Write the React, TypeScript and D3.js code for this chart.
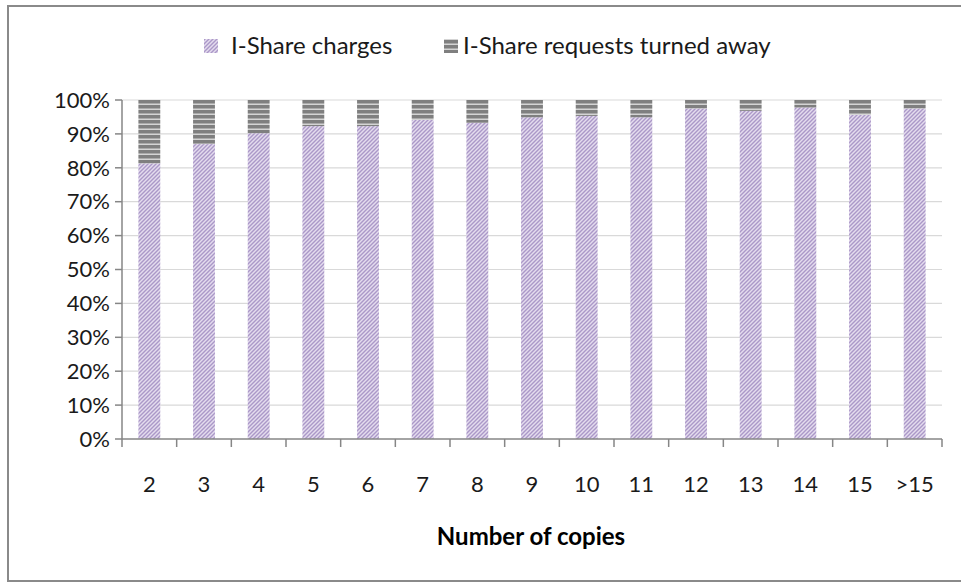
import React from 'react';
import * as d3 from 'd3';

const categories = ['2', '3', '4', '5', '6', '7', '8', '9', '10', '11', '12', '13', '14', '15', '>15'];
const charges = [81.3, 87.0, 90.2, 92.3, 92.3, 94.1, 93.3, 94.9, 95.3, 94.9, 97.5, 96.8, 97.8, 95.6, 97.5];
const turnedAway = [18.7, 13.0, 9.8, 7.7, 7.7, 5.9, 6.7, 5.1, 4.7, 5.1, 2.5, 3.2, 2.2, 4.4, 2.5];
const yTicks = [0, 10, 20, 30, 40, 50, 60, 70, 80, 90, 100];
const seriesNames = ['I-Share charges', 'I-Share requests turned away'];
const xTitle = 'Number of copies';

const W = 961;
const H = 582;
const FONT = 'Lato, "Open Sans", sans-serif';

export default function App() {
  const left = 122, right = 942, top = 100, bottom = 439;
  const x = d3.scaleBand<string>().domain(categories).range([left, right]).paddingInner(0.6).paddingOuter(0.3);
  const y = d3.scaleLinear().domain([0, 100]).range([bottom, top]);
  const rows = categories.map((c, i) => ({ cat: c, charges: charges[i], away: turnedAway[i] }));
  const stack = d3.stack<any>().keys(['charges', 'away']);
  const layers = stack(rows);
  const fills = ['url(#hatchPurple)', 'url(#stripeGray)'];
  const step = x.step();
  const boundaries = d3.range(categories.length + 1).map((i) => left + i * step);

  return (
    <svg width={W} height={H} style={{ position: 'absolute', left: 0, top: 0 }} fontFamily={FONT}>
      <defs>
        <pattern id="hatchPurple" patternUnits="userSpaceOnUse" width={4} height={4}>
          <rect width={4} height={4} fill="#e4dcee" />
          <path d="M-1,1 l2,-2 M0,4 l4,-4 M3,5 l2,-2" stroke="#ab98c8" strokeWidth={1.4} />
        </pattern>
        <pattern id="stripeGray" patternUnits="userSpaceOnUse" width={5} height={5}>
          <rect width={5} height={5} fill="#7f7f7f" />
          <rect y={3.5} width={5} height={1.5} fill="#d4d4d4" />
        </pattern>
      </defs>
      <rect x={0} y={0} width={W} height={H} fill="#fff" />
      <rect x={8} y={6} width={970} height={575} fill="#fff" stroke="#8a8a8a" strokeWidth={2} />

      {/* gridlines */}
      {yTicks.filter((t) => t > 0).map((t) => (
        <line key={t} x1={left} x2={right} y1={y(t)} y2={y(t)} stroke="#d9d9d9" strokeWidth={1.2} />
      ))}

      {/* bars */}
      {layers.map((layer, li) => (
        <g key={li} fill={fills[li]}>
          {layer.map((d: any, i: number) => (
            <rect key={i} x={x(d.data.cat)} width={x.bandwidth()} y={y(d[1])} height={y(d[0]) - y(d[1])} />
          ))}
        </g>
      ))}

      {/* y axis */}
      <line x1={left} x2={left} y1={top} y2={bottom} stroke="#868686" strokeWidth={1.5} />
      {yTicks.map((t) => (
        <g key={t}>
          <line x1={left - 7} x2={left} y1={y(t)} y2={y(t)} stroke="#868686" strokeWidth={1.5} />
          <text x={110} y={y(t)} dy="0.35em" textAnchor="end" fontSize={22} fill="#1a1a1a">{t}%</text>
        </g>
      ))}

      {/* x axis */}
      <line x1={left} x2={right} y1={bottom} y2={bottom} stroke="#868686" strokeWidth={1.5} />
      {boundaries.map((b, i) => (
        <line key={i} x1={b} x2={b} y1={bottom} y2={bottom + 8} stroke="#868686" strokeWidth={1.5} />
      ))}
      {categories.map((c) => (
        <text key={c} x={(x(c) as number) + x.bandwidth() / 2} y={484} dy="0.35em" textAnchor="middle" fontSize={22} fill="#1a1a1a">{c}</text>
      ))}
      <text x={531} y={537} dy="0.35em" textAnchor="middle" fontSize={24} fontWeight="bold" fill="#000">{xTitle}</text>

      {/* legend */}
      <rect x={204} y={39} width={14} height={14} fill={fills[0]} />
      <text x={231} y={46} dy="0.35em" fontSize={24} fill="#1a1a1a">{seriesNames[0]}</text>
      <rect x={444} y={39} width={14} height={14} fill={fills[1]} />
      <text x={463} y={46} dy="0.35em" fontSize={24} fill="#1a1a1a">{seriesNames[1]}</text>
    </svg>
  );
}
